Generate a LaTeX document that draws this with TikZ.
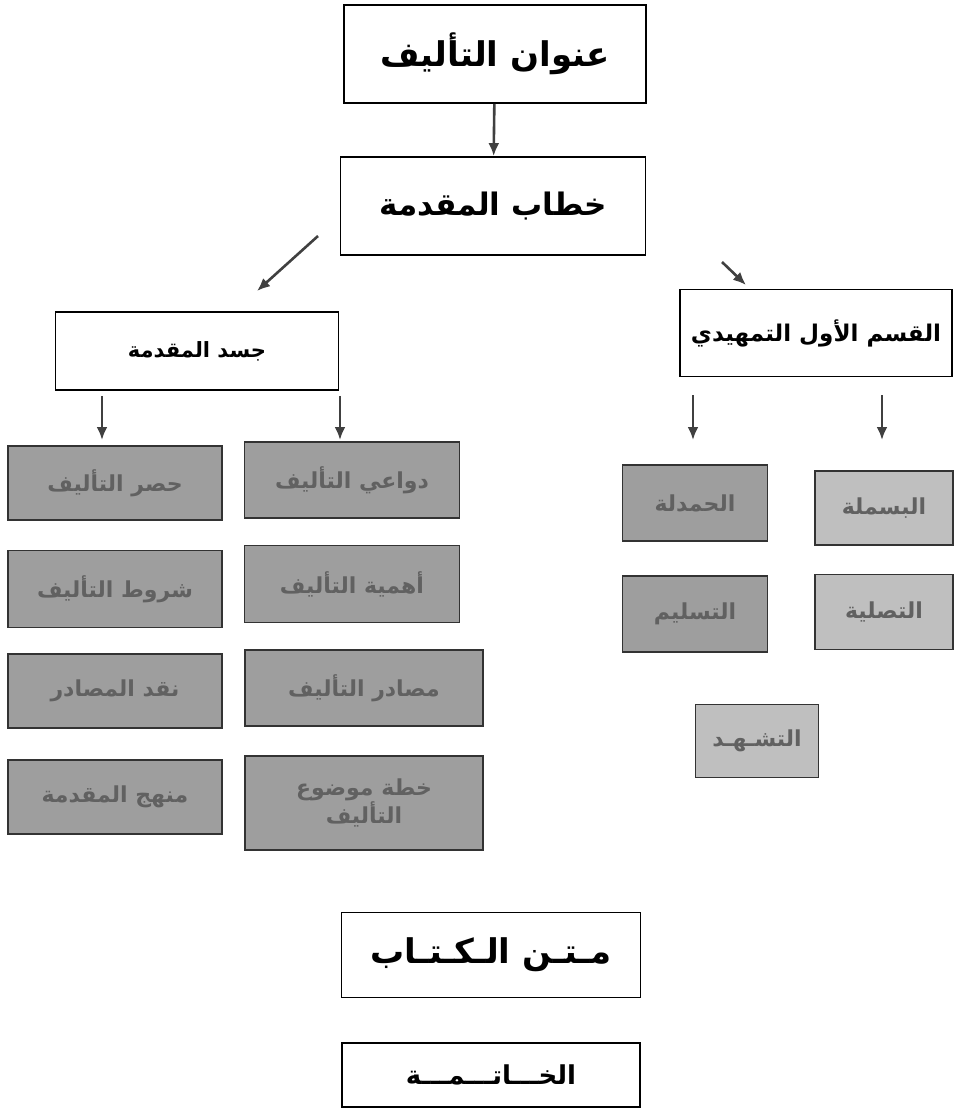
\documentclass[tikz,border=0pt]{standalone}
\usepackage{fontspec}
\newfontfamily\arabicfont[Script=Arabic]{DejaVu Sans}
\TeXXeTstate=1
\usetikzlibrary{calc,positioning,arrows.meta}
\newcommand{\artxt}[1]{{\arabicfont\beginR #1\endR}}

\begin{document}
\begin{tikzpicture}[x=1pt,y=-1pt,
  mainbox/.style={draw,line width=1.8pt,fill=white,inner sep=0pt,font=\bfseries},
  greybox/.style={draw=black!80,line width=1.8pt,fill=black!38,text=black!62,inner sep=0pt,font=\bfseries\fontsize{22}{27}\selectfont,align=center},
  lightbox/.style={greybox,fill=black!25},
  arr/.style={-{Latex[length=13pt,width=11pt]},line width=2.6pt,draw=black!75}]
  \useasboundingbox (0,0) rectangle (956,1111);

  \node[mainbox,minimum width=302,minimum height=98,font=\bfseries\fontsize{34}{40}\selectfont] (title) at (495,54) {\artxt{عنوان التأليف}};
  \node[mainbox,minimum width=305,minimum height=98,font=\bfseries\fontsize{31}{37}\selectfont] (speech) at (493,206) {\artxt{خطاب المقدمة}};
  \node[mainbox,minimum width=283,minimum height=78,font=\bfseries\fontsize{21}{26}\selectfont] (body) at (197,351) {\artxt{جسد المقدمة}};
  \node[mainbox,minimum width=272,minimum height=87,font=\bfseries\fontsize{23}{28}\selectfont] (intro) at (816,333) {\artxt{القسم الأول التمهيدي}};
  \node[mainbox,minimum width=299,minimum height=85,font=\bfseries\fontsize{34}{40}\selectfont] (matn) at (491,955) {\artxt{مـتـن الـكـتـاب}};
  \node[mainbox,minimum width=298,minimum height=64,font=\bfseries\fontsize{26}{31}\selectfont] (khatima) at (491,1075) {\artxt{الخـــاتـــمـــة}};

  \node[greybox,minimum width=215,minimum height=76] (dawai) at (352,480) {\artxt{دواعي التأليف}};
  \node[greybox,minimum width=214,minimum height=74] (hasr) at (115,483) {\artxt{حصر التأليف}};
  \node[greybox,minimum width=215,minimum height=77] (ahamm) at (352,584) {\artxt{أهمية التأليف}};
  \node[greybox,minimum width=214,minimum height=77] (shurut) at (115,589) {\artxt{شروط التأليف}};
  \node[greybox,minimum width=238,minimum height=76] (masadir) at (364,688) {\artxt{مصادر التأليف}};
  \node[greybox,minimum width=214,minimum height=74] (naqd) at (115,691) {\artxt{نقد المصادر}};
  \node[greybox,minimum width=238,minimum height=94] (khitta) at (364,803) {\artxt{خطة موضوع}\\\artxt{التأليف}};
  \node[greybox,minimum width=214,minimum height=74] (manhaj) at (115,797) {\artxt{منهج المقدمة}};

  \node[greybox,minimum width=145,minimum height=76] (hamdala) at (695,503) {\artxt{الحمدلة}};
  \node[lightbox,minimum width=138,minimum height=74] (basmala) at (884,508) {\artxt{البسملة}};
  \node[greybox,minimum width=145,minimum height=76] (taslim) at (695,614) {\artxt{التسليم}};
  \node[lightbox,minimum width=138,minimum height=75] (tasliya) at (884,612) {\artxt{التصلية}};
  \node[lightbox,minimum width=123,minimum height=73] (tashahhud) at (757,741) {\artxt{التشـهـد}};

  \coordinate (lstart) at (318,236);
  \coordinate (lend) at (257,291);
  \coordinate (rstart) at (722,262);
  \coordinate (rend) at (746,285);
  \coordinate (a1) at (102,440);
  \coordinate (a2) at (340,440);
  \coordinate (b1) at (693,440);
  \coordinate (b2) at (882,440);

  \draw[arr] (title) -- (speech);
  \draw[arr] (lstart) -- (lend);
  \draw[arr] (rstart) -- (rend);
  \draw[arr,shorten <=5pt] (body.south -| a1) -- (a1);
  \draw[arr,shorten <=5pt] (body.south -| a2) -- (a2);
  \draw[arr,shorten <=18pt] (intro.south -| b1) -- (b1);
  \draw[arr,shorten <=18pt] (intro.south -| b2) -- (b2);
\end{tikzpicture}
\end{document}
